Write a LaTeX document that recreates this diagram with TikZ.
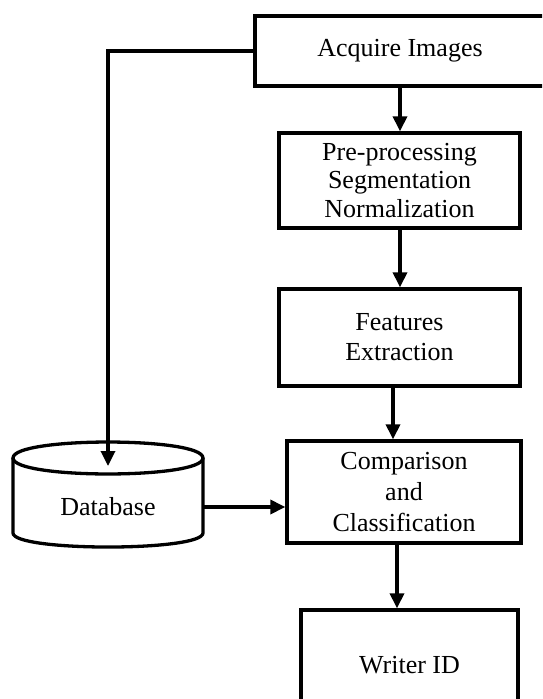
\documentclass[tikz,border=0pt]{standalone}
\usepackage{fontspec}
\setmainfont{Liberation Serif}
\usetikzlibrary{arrows.meta,calc}
\begin{document}
\begin{tikzpicture}[x=1pt,y=-1pt,
  box/.style={draw, line width=3.3pt, rectangle, inner sep=0pt, align=center, font=\fontsize{26}{30}\selectfont},
  arr/.style={line width=3.3pt, -{Triangle[length=15pt,width=14pt]}},
  cyl/.style={line width=3.3pt, line join=round}]
\useasboundingbox (0,0) rectangle (542,699);
\clip (0,0) rectangle (542,699);
\node[box, minimum width=290pt, minimum height=70pt] (acq) at (400,51) {Acquire Images};
\node[box, minimum width=241pt, minimum height=95pt, font=\fontsize{26}{28.5}\selectfont] (pre) at (399.5,180.5) {Pre-processing\\Segmentation\\Normalization};
\node[box, minimum width=241pt, minimum height=97pt] (feat) at (399.5,337.5) {Features\\Extraction};
\node[box, minimum width=234pt, minimum height=102pt, font=\fontsize{26}{31}\selectfont] (comp) at (404,492) {Comparison\\and\\Classification};
\node[box, minimum width=217pt, minimum height=110pt] (wid) at (409.5,665) {Writer ID};
% database cylinder
\draw[cyl] (13,458) .. controls (13,436.7) and (203,436.7) .. (203,458) .. controls (203,479.3) and (13,479.3) .. (13,458) -- cycle;
\draw[cyl] (13,458) -- (13,533) .. controls (13,551.7) and (203,551.7) .. (203,533) -- (203,458);
\node[inner sep=0pt, minimum width=190pt, minimum height=70pt, font=\fontsize{26}{30}\selectfont] (db) at (108,507) {Database};
% connectors
\coordinate (dbin) at (108,466);
\coordinate (x0) at (400,0);
\coordinate (x1) at (393,0);
\coordinate (x2) at (397,0);
\draw[arr] (acq.south -| x0) -- (pre.north -| x0);
\draw[arr] (pre.south -| x0) -- (feat.north -| x0);
\draw[arr] (feat.south -| x1) -- (comp.north -| x1);
\draw[arr] (comp.south -| x2) -- (wid.north -| x2);
\draw[arr] (db.east) -- (db.east -| comp.west);
\draw[arr, line join=miter] (acq.west) -| (dbin);
\end{tikzpicture}
\end{document}
